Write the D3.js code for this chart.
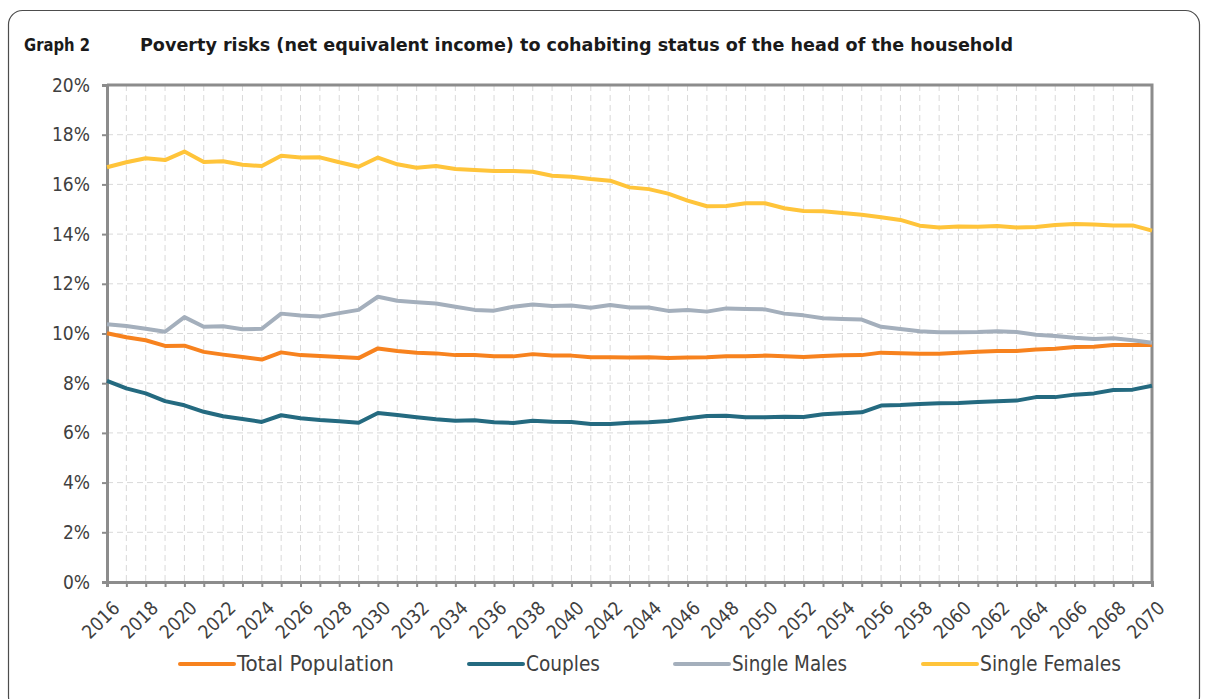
<!DOCTYPE html>
<html>
<head>
<meta charset="utf-8">
<script src="https://cdn.jsdelivr.net/npm/d3@7"></script>
<style>
  html, body { margin: 0; padding: 0; background: #ffffff; }
  svg { display: block; }
  text { font-family: "DejaVu Sans Condensed", "DejaVu Sans", sans-serif; }
</style>
</head>
<body>
<svg id="chart" width="1208" height="699"></svg>
<script>
// Poverty risk projections by cohabiting status, 2016–2070 (percent)
const years = d3.range(2016, 2071);
const yTicks = [0, 2, 4, 6, 8, 10, 12, 14, 16, 18, 20];
const seriesNames = ["Total Population", "Couples", "Single Males", "Single Females"];
const seriesColors = ["#f7821e", "#246a80", "#a4afbc", "#ffc43a"];

const totalPopulation = [
  10.01, 9.85, 9.73, 9.50, 9.51, 9.26, 9.15, 9.05, 8.95, 9.24,
  9.13, 9.09, 9.05, 9.01, 9.40, 9.30, 9.23, 9.20, 9.13, 9.13,
  9.08, 9.08, 9.17, 9.11, 9.11, 9.04, 9.04, 9.03, 9.04, 9.01,
  9.03, 9.04, 9.08, 9.08, 9.11, 9.08, 9.05, 9.09, 9.12, 9.13,
  9.23, 9.21, 9.19, 9.19, 9.23, 9.27, 9.30, 9.30, 9.36, 9.39,
  9.46, 9.47, 9.54, 9.54, 9.54
];
const couples = [
  8.09, 7.79, 7.59, 7.28, 7.11, 6.85, 6.67, 6.56, 6.44, 6.71,
  6.59, 6.52, 6.47, 6.41, 6.80, 6.72, 6.63, 6.55, 6.49, 6.51,
  6.43, 6.40, 6.49, 6.45, 6.44, 6.36, 6.36, 6.41, 6.43, 6.48,
  6.59, 6.68, 6.69, 6.63, 6.63, 6.65, 6.64, 6.75, 6.79, 6.83,
  7.10, 7.12, 7.16, 7.19, 7.20, 7.24, 7.27, 7.30, 7.44, 7.44,
  7.54, 7.59, 7.73, 7.74, 7.90
];
const singleMales = [
  10.37, 10.30, 10.19, 10.07, 10.66, 10.27, 10.29, 10.17, 10.19, 10.80,
  10.72, 10.68, 10.82, 10.95, 11.48, 11.32, 11.26, 11.21, 11.08, 10.95,
  10.92, 11.08, 11.17, 11.11, 11.13, 11.04, 11.15, 11.05, 11.05, 10.91,
  10.95, 10.88, 11.01, 10.99, 10.97, 10.80, 10.73, 10.61, 10.58, 10.56,
  10.27, 10.18, 10.09, 10.05, 10.05, 10.06, 10.09, 10.06, 9.95, 9.90,
  9.83, 9.78, 9.81, 9.73, 9.63
];
const singleFemales = [
  16.69, 16.89, 17.05, 16.98, 17.32, 16.90, 16.93, 16.79, 16.74, 17.15,
  17.08, 17.09, 16.89, 16.71, 17.08, 16.81, 16.67, 16.74, 16.62, 16.58,
  16.54, 16.54, 16.51, 16.35, 16.31, 16.22, 16.15, 15.88, 15.81, 15.63,
  15.35, 15.12, 15.13, 15.24, 15.24, 15.04, 14.93, 14.92, 14.85, 14.78,
  14.68, 14.57, 14.34, 14.27, 14.31, 14.30, 14.33, 14.27, 14.29, 14.37,
  14.41, 14.39, 14.35, 14.35, 14.14
];

const seriesValues = [totalPopulation, couples, singleMales, singleFemales];
const series = seriesNames.map((name, i) => ({
  name,
  color: seriesColors[i],
  points: years.map((yr, j) => ({ year: yr, value: seriesValues[i][j] }))
}));

const svg = d3.select("#chart");
const margin = { left: 107, right: 1152, top: 85, bottom: 582 };
const textColor = "#404040";
const axisColor = "#8c8c8c";

// Rounded frame around the whole graphic
svg.append("rect")
  .attr("x", 8.5).attr("y", 10.5)
  .attr("width", 1191).attr("height", 700)
  .attr("rx", 14).attr("ry", 14)
  .attr("fill", "none")
  .attr("stroke", "#4d4d4d")
  .attr("stroke-width", 1.2);

// Title
svg.append("text")
  .attr("x", 24).attr("y", 51)
  .attr("font-size", 18).attr("font-weight", "bold")
  .attr("fill", "#1a1a1a")
  .attr("textLength", 66).attr("lengthAdjust", "spacingAndGlyphs")
  .text("Graph 2");
svg.append("text")
  .attr("x", 140).attr("y", 51)
  .attr("font-size", 18).attr("font-weight", "bold")
  .attr("font-family", "'DejaVu Sans', sans-serif")
  .attr("fill", "#1a1a1a")
  .attr("textLength", 873).attr("lengthAdjust", "spacingAndGlyphs")
  .text("Poverty risks (net equivalent income) to cohabiting status of the head of the household");

const x = d3.scaleLinear().domain([2016, 2070]).range([margin.left, margin.right]);
const y = d3.scaleLinear().domain([0, 20]).range([margin.bottom, margin.top]);

// Dashed grid
const grid = svg.append("g");
grid.selectAll("line.v").data(years.slice(1, -1)).join("line")
  .attr("x1", d => x(d)).attr("x2", d => x(d))
  .attr("y1", margin.top).attr("y2", margin.bottom)
  .attr("stroke", "#d9d9d9").attr("stroke-width", 1)
  .attr("stroke-dasharray", "6,4");
grid.selectAll("line.h").data(yTicks.slice(1, -1)).join("line")
  .attr("x1", margin.left).attr("x2", margin.right)
  .attr("y1", d => y(d)).attr("y2", d => y(d))
  .attr("stroke", "#d9d9d9").attr("stroke-width", 1)
  .attr("stroke-dasharray", "6,4");

// Plot frame (top and right)
svg.append("path")
  .attr("d", `M${margin.left},${margin.top}H${margin.right}V${margin.bottom}`)
  .attr("fill", "none").attr("stroke", axisColor).attr("stroke-width", 3);

// Y axis
const yAxis = svg.append("g")
  .attr("transform", `translate(${margin.left},0)`)
  .call(d3.axisLeft(y).tickValues(yTicks).tickFormat(d => d + "%").tickSize(5).tickPadding(12));
yAxis.select(".domain").attr("stroke", axisColor).attr("stroke-width", 3);
yAxis.selectAll(".tick line").attr("stroke", axisColor).attr("stroke-width", 2);
yAxis.selectAll(".tick text")
  .attr("font-size", 19).attr("fill", textColor)
  .attr("font-family", "'DejaVu Sans Condensed', 'DejaVu Sans', sans-serif");

// X axis: a tick every year, labels every second year
const xAxis = svg.append("g")
  .attr("transform", `translate(0,${margin.bottom})`)
  .call(d3.axisBottom(x).tickValues(years).tickFormat(d => (d % 2 === 0 ? String(d) : "")).tickSize(5));
xAxis.select(".domain").attr("stroke", axisColor).attr("stroke-width", 3);
xAxis.selectAll(".tick line").attr("stroke", axisColor).attr("stroke-width", 2);
xAxis.selectAll(".tick text")
  .attr("font-size", 19).attr("fill", textColor)
  .attr("font-family", "'DejaVu Sans Condensed', 'DejaVu Sans', sans-serif")
  .attr("text-anchor", "end")
  .attr("dy", "0.35em")
  .attr("transform", "translate(3,17) rotate(-45)");

// Series lines
const line = d3.line().x(d => x(d.year)).y(d => y(d.value));
svg.append("g").selectAll("path").data(series).join("path")
  .attr("d", d => line(d.points))
  .attr("fill", "none")
  .attr("stroke", d => d.color)
  .attr("stroke-width", 4)
  .attr("stroke-linejoin", "round");

// Legend: swatch line followed by the series name
const legendX = [180, 469, 675, 923];
const legendTextWidth = [157, 74, 115, 141];
const legend = svg.append("g").selectAll("g").data(series).join("g")
  .attr("transform", (d, i) => `translate(${legendX[i]},664)`);
legend.append("line")
  .attr("x1", 0).attr("x2", 54)
  .attr("stroke", d => d.color).attr("stroke-width", 4).attr("stroke-linecap", "round");
legend.append("text")
  .attr("x", 57).attr("dy", "0.35em")
  .attr("font-size", 20.5).attr("fill", textColor)
  .attr("font-family", "'DejaVu Sans', sans-serif")
  .attr("textLength", (d, i) => legendTextWidth[i])
  .attr("lengthAdjust", "spacingAndGlyphs")
  .text(d => d.name);
</script>
</body>
</html>
